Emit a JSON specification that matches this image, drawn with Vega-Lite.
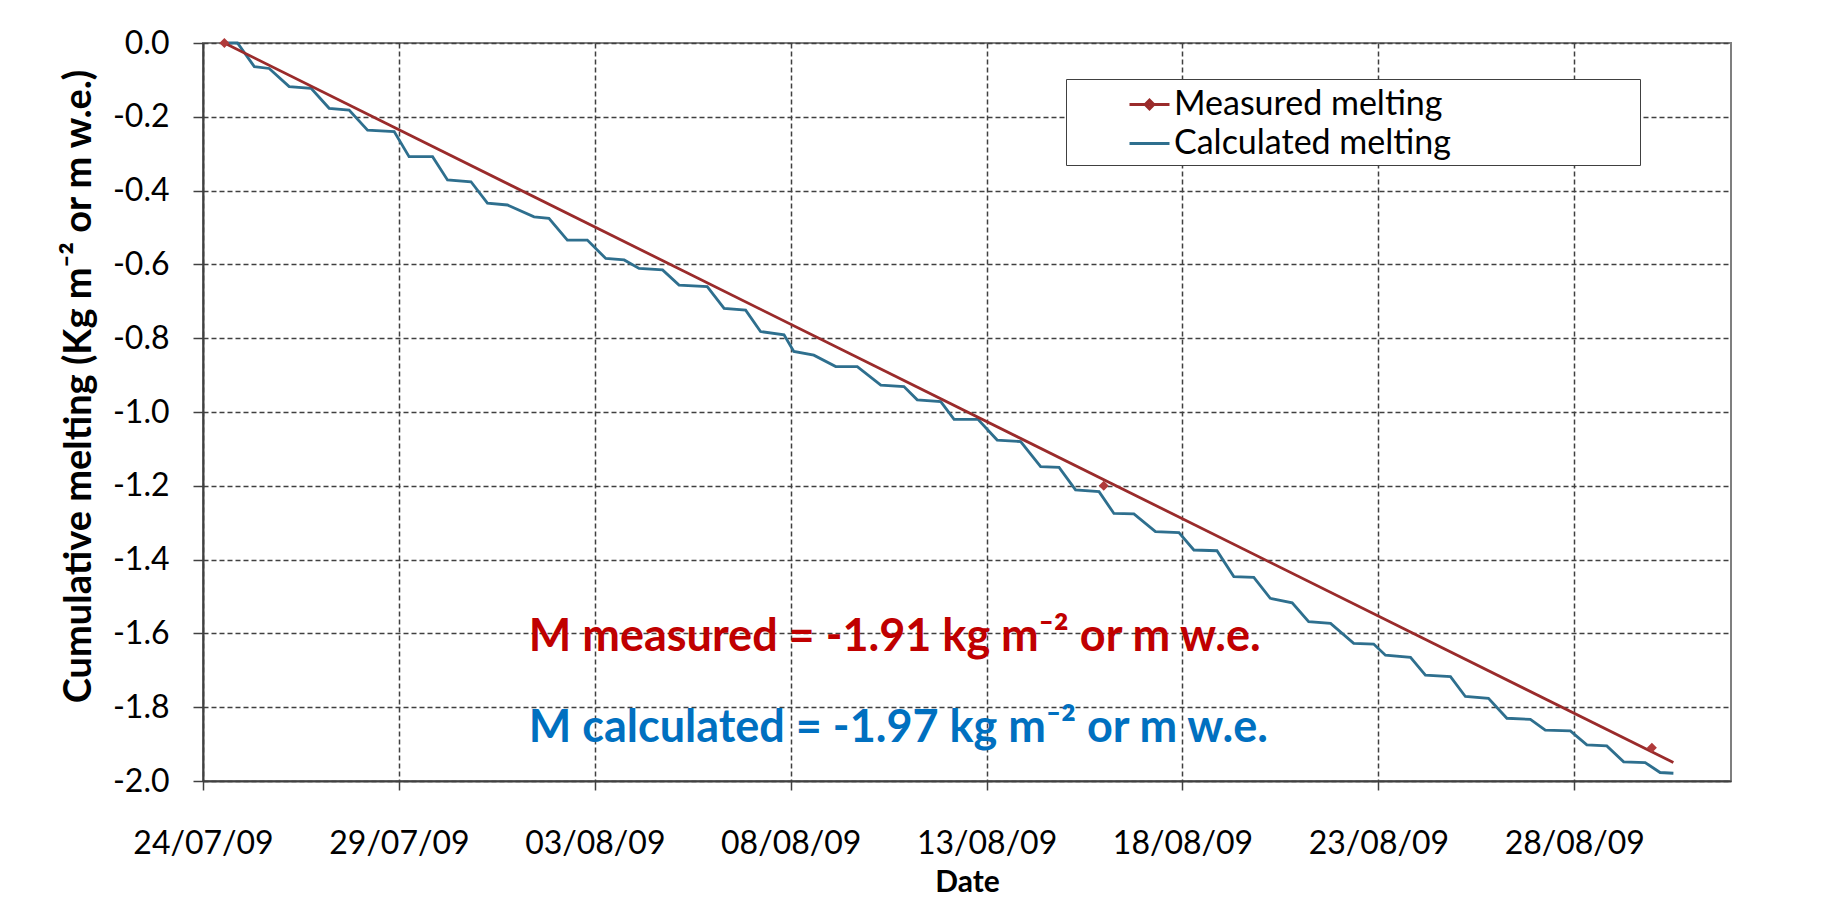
{
  "$schema": "https://vega.github.io/schema/vega-lite/v6.json",
  "width": 1528,
  "height": 738,
  "autosize": {"type": "none"},
  "padding": {"left": 203, "top": 43, "right": 96, "bottom": 118},
  "background": "white",
  "config": {
    "font": "Lato",
    "locale": {"number": {"decimal": ".", "thousands": ",", "grouping": [3], "currency": ["", ""], "minus": "-"}},
    "view": {"stroke": "#7f7f7f", "strokeWidth": 2}
  },
  "datasets": {
    "notes": [
      {"date": "2009-08-01T07:35", "value": -1.648, "note": "M measured = -1.91 kg m⁻² or m w.e.", "who": "measured"},
      {"date": "2009-08-01T07:35", "value": -1.894, "note": "M calculated = -1.97 kg m⁻² or m w.e.", "who": "calculated"}
    ],
    "melt": [
      {"date": "2009-07-24T13:05", "value": 0, "series": "Measured melting", "kind": "trend"},
      {"date": "2009-08-30T12:43", "value": -1.95, "series": "Measured melting", "kind": "trend"},
      {"date": "2009-07-24T13:05", "value": 0, "series": "Measured melting", "kind": "obs"},
      {"date": "2009-08-15T23:46", "value": -1.2, "series": "Measured melting", "kind": "obs"},
      {"date": "2009-08-29T23:31", "value": -1.91, "series": "Measured melting", "kind": "obs"},
      {"date": "2009-07-24T13:05", "value": 0, "series": "Calculated melting", "kind": "calc"},
      {"date": "2009-07-24T21:07", "value": 0, "series": "Calculated melting", "kind": "calc"},
      {"date": "2009-07-25T07:26", "value": -0.064, "series": "Calculated melting", "kind": "calc"},
      {"date": "2009-07-25T16:34", "value": -0.069, "series": "Calculated melting", "kind": "calc"},
      {"date": "2009-07-26T04:48", "value": -0.118, "series": "Calculated melting", "kind": "calc"},
      {"date": "2009-07-26T18:14", "value": -0.123, "series": "Calculated melting", "kind": "calc"},
      {"date": "2009-07-27T05:17", "value": -0.177, "series": "Calculated melting", "kind": "calc"},
      {"date": "2009-07-27T17:31", "value": -0.182, "series": "Calculated melting", "kind": "calc"},
      {"date": "2009-07-28T04:48", "value": -0.236, "series": "Calculated melting", "kind": "calc"},
      {"date": "2009-07-28T21:07", "value": -0.240, "series": "Calculated melting", "kind": "calc"},
      {"date": "2009-07-29T06:14", "value": -0.308, "series": "Calculated melting", "kind": "calc"},
      {"date": "2009-07-29T20:38", "value": -0.308, "series": "Calculated melting", "kind": "calc"},
      {"date": "2009-07-30T05:46", "value": -0.371, "series": "Calculated melting", "kind": "calc"},
      {"date": "2009-07-30T20:10", "value": -0.376, "series": "Calculated melting", "kind": "calc"},
      {"date": "2009-07-31T06:14", "value": -0.434, "series": "Calculated melting", "kind": "calc"},
      {"date": "2009-07-31T18:29", "value": -0.439, "series": "Calculated melting", "kind": "calc"},
      {"date": "2009-08-01T10:48", "value": -0.471, "series": "Calculated melting", "kind": "calc"},
      {"date": "2009-08-01T19:55", "value": -0.475, "series": "Calculated melting", "kind": "calc"},
      {"date": "2009-08-02T07:12", "value": -0.534, "series": "Calculated melting", "kind": "calc"},
      {"date": "2009-08-02T19:26", "value": -0.534, "series": "Calculated melting", "kind": "calc"},
      {"date": "2009-08-03T06:43", "value": -0.584, "series": "Calculated melting", "kind": "calc"},
      {"date": "2009-08-03T18:00", "value": -0.588, "series": "Calculated melting", "kind": "calc"},
      {"date": "2009-08-04T03:07", "value": -0.611, "series": "Calculated melting", "kind": "calc"},
      {"date": "2009-08-04T17:31", "value": -0.615, "series": "Calculated melting", "kind": "calc"},
      {"date": "2009-08-05T03:36", "value": -0.656, "series": "Calculated melting", "kind": "calc"},
      {"date": "2009-08-05T20:53", "value": -0.660, "series": "Calculated melting", "kind": "calc"},
      {"date": "2009-08-06T07:12", "value": -0.719, "series": "Calculated melting", "kind": "calc"},
      {"date": "2009-08-06T20:24", "value": -0.724, "series": "Calculated melting", "kind": "calc"},
      {"date": "2009-08-07T05:31", "value": -0.782, "series": "Calculated melting", "kind": "calc"},
      {"date": "2009-08-07T19:55", "value": -0.791, "series": "Calculated melting", "kind": "calc"},
      {"date": "2009-08-08T01:55", "value": -0.836, "series": "Calculated melting", "kind": "calc"},
      {"date": "2009-08-08T14:10", "value": -0.846, "series": "Calculated melting", "kind": "calc"},
      {"date": "2009-08-09T03:36", "value": -0.877, "series": "Calculated melting", "kind": "calc"},
      {"date": "2009-08-09T16:48", "value": -0.877, "series": "Calculated melting", "kind": "calc"},
      {"date": "2009-08-10T07:12", "value": -0.927, "series": "Calculated melting", "kind": "calc"},
      {"date": "2009-08-10T21:22", "value": -0.931, "series": "Calculated melting", "kind": "calc"},
      {"date": "2009-08-11T05:31", "value": -0.967, "series": "Calculated melting", "kind": "calc"},
      {"date": "2009-08-11T19:55", "value": -0.972, "series": "Calculated melting", "kind": "calc"},
      {"date": "2009-08-12T04:05", "value": -1.020, "series": "Calculated melting", "kind": "calc"},
      {"date": "2009-08-12T18:43", "value": -1.020, "series": "Calculated melting", "kind": "calc"},
      {"date": "2009-08-13T06:29", "value": -1.076, "series": "Calculated melting", "kind": "calc"},
      {"date": "2009-08-13T20:53", "value": -1.080, "series": "Calculated melting", "kind": "calc"},
      {"date": "2009-08-14T09:07", "value": -1.148, "series": "Calculated melting", "kind": "calc"},
      {"date": "2009-08-14T20:24", "value": -1.150, "series": "Calculated melting", "kind": "calc"},
      {"date": "2009-08-15T06:29", "value": -1.211, "series": "Calculated melting", "kind": "calc"},
      {"date": "2009-08-15T20:53", "value": -1.216, "series": "Calculated melting", "kind": "calc"},
      {"date": "2009-08-16T06:00", "value": -1.275, "series": "Calculated melting", "kind": "calc"},
      {"date": "2009-08-16T18:14", "value": -1.276, "series": "Calculated melting", "kind": "calc"},
      {"date": "2009-08-17T07:26", "value": -1.324, "series": "Calculated melting", "kind": "calc"},
      {"date": "2009-08-17T21:50", "value": -1.327, "series": "Calculated melting", "kind": "calc"},
      {"date": "2009-08-18T06:58", "value": -1.374, "series": "Calculated melting", "kind": "calc"},
      {"date": "2009-08-18T21:07", "value": -1.376, "series": "Calculated melting", "kind": "calc"},
      {"date": "2009-08-19T07:26", "value": -1.446, "series": "Calculated melting", "kind": "calc"},
      {"date": "2009-08-19T19:41", "value": -1.448, "series": "Calculated melting", "kind": "calc"},
      {"date": "2009-08-20T05:46", "value": -1.505, "series": "Calculated melting", "kind": "calc"},
      {"date": "2009-08-20T19:12", "value": -1.517, "series": "Calculated melting", "kind": "calc"},
      {"date": "2009-08-21T05:17", "value": -1.568, "series": "Calculated melting", "kind": "calc"},
      {"date": "2009-08-21T18:43", "value": -1.573, "series": "Calculated melting", "kind": "calc"},
      {"date": "2009-08-22T08:53", "value": -1.627, "series": "Calculated melting", "kind": "calc"},
      {"date": "2009-08-22T21:07", "value": -1.629, "series": "Calculated melting", "kind": "calc"},
      {"date": "2009-08-23T04:19", "value": -1.659, "series": "Calculated melting", "kind": "calc"},
      {"date": "2009-08-23T19:41", "value": -1.665, "series": "Calculated melting", "kind": "calc"},
      {"date": "2009-08-24T04:48", "value": -1.713, "series": "Calculated melting", "kind": "calc"},
      {"date": "2009-08-24T20:10", "value": -1.717, "series": "Calculated melting", "kind": "calc"},
      {"date": "2009-08-25T05:17", "value": -1.771, "series": "Calculated melting", "kind": "calc"},
      {"date": "2009-08-25T19:26", "value": -1.776, "series": "Calculated melting", "kind": "calc"},
      {"date": "2009-08-26T06:43", "value": -1.830, "series": "Calculated melting", "kind": "calc"},
      {"date": "2009-08-26T21:07", "value": -1.833, "series": "Calculated melting", "kind": "calc"},
      {"date": "2009-08-27T06:14", "value": -1.862, "series": "Calculated melting", "kind": "calc"},
      {"date": "2009-08-27T21:36", "value": -1.864, "series": "Calculated melting", "kind": "calc"},
      {"date": "2009-08-28T07:41", "value": -1.902, "series": "Calculated melting", "kind": "calc"},
      {"date": "2009-08-28T19:55", "value": -1.905, "series": "Calculated melting", "kind": "calc"},
      {"date": "2009-08-29T06:14", "value": -1.948, "series": "Calculated melting", "kind": "calc"},
      {"date": "2009-08-29T19:26", "value": -1.950, "series": "Calculated melting", "kind": "calc"},
      {"date": "2009-08-30T04:34", "value": -1.977, "series": "Calculated melting", "kind": "calc"},
      {"date": "2009-08-30T12:43", "value": -1.979, "series": "Calculated melting", "kind": "calc"}
    ]
  },
  "encoding": {
    "x": {
      "field": "date",
      "type": "temporal",
      "scale": {"domain": [{"year": 2009, "month": 7, "date": 24}, {"year": 2009, "month": 9, "date": 1}]},
      "axis": {
        "values": [
          {"year": 2009, "month": 7, "date": 24},
          {"year": 2009, "month": 7, "date": 29},
          {"year": 2009, "month": 8, "date": 3},
          {"year": 2009, "month": 8, "date": 8},
          {"year": 2009, "month": 8, "date": 13},
          {"year": 2009, "month": 8, "date": 18},
          {"year": 2009, "month": 8, "date": 23},
          {"year": 2009, "month": 8, "date": 28}
        ],
        "format": "%d/%m/%y",
        "title": "Date",
        "titleFont": "Lato",
        "titleFontSize": 30,
        "titleFontWeight": "bold",
        "titleColor": "black",
        "titlePadding": 8,
        "labelFont": "Lato",
        "labelFontSize": 32,
        "labelColor": "black",
        "labelPadding": 38,
        "labelFlush": false,
        "labelOverlap": false,
        "tickSize": 9,
        "tickColor": "#404040",
        "tickWidth": 1.5,
        "domainColor": "#404040",
        "domainWidth": 2,
        "grid": true,
        "gridColor": "#404040",
        "gridDash": [5, 3],
        "gridWidth": 1.5
      }
    },
    "y": {
      "field": "value",
      "type": "quantitative",
      "scale": {"domain": [-2, 0], "nice": false, "zero": false},
      "axis": {
        "values": [0, -0.2, -0.4, -0.6, -0.8, -1.0, -1.2, -1.4, -1.6, -1.8, -2.0],
        "format": ".1f",
        "title": "Cumulative melting (Kg m⁻² or m w.e.)",
        "titleFont": "Lato",
        "titleFontSize": 38,
        "titleFontWeight": "bold",
        "titleColor": "black",
        "titlePadding": 14,
        "titleY": 343,
        "labelFont": "Lato",
        "labelFontSize": 32,
        "labelColor": "black",
        "labelPadding": 24,
        "tickSize": 10,
        "tickColor": "#404040",
        "tickWidth": 1.5,
        "domainColor": "#404040",
        "domainWidth": 2,
        "grid": true,
        "gridColor": "#404040",
        "gridDash": [5, 3],
        "gridWidth": 1.5
      }
    },
    "color": {
      "field": "series",
      "type": "nominal",
      "scale": {"domain": ["Measured melting", "Calculated melting"], "range": ["#9a2b2b", "#2e6f8e"]},
      "legend": {
        "orient": "none",
        "legendX": 863,
        "legendY": 36,
        "title": " ",
        "titleOrient": "right",
        "titlePadding": 185,
        "strokeColor": "#404040",
        "fillColor": "white",
        "padding": 4,
        "symbolOffset": 58,
        "symbolSize": 1600,
        "symbolStrokeWidth": 2.8,
        "labelFont": "Lato",
        "labelFontSize": 34,
        "labelColor": "black",
        "labelOffset": 3,
        "labelLimit": 500,
        "rowPadding": 0,
        "encode": {
          "symbols": {
            "update": {
              "shape": {"signal": "datum.value == 'Measured melting' ? 'M-1,0L1,0M0,-0.22L0.22,0L0,0.22L-0.22,0Z' : 'M-1,0L1,0'"},
              "fill": {"signal": "datum.value == 'Measured melting' ? '#b03a3a' : 'transparent'"},
              "stroke": {"signal": "datum.value == 'Measured melting' ? '#9a2b2b' : '#2e6f8e'"},
              "strokeWidth": {"value": 2.8}
            }
          }
        }
      }
    }
  },
  "layer": [
    {
      "data": {"name": "melt"},
      "transform": [{"filter": "datum.kind == 'calc'"}],
      "mark": {"type": "line", "strokeWidth": 2.8}
    },
    {
      "data": {"name": "melt"},
      "transform": [{"filter": "datum.kind == 'trend'"}],
      "mark": {"type": "line", "strokeWidth": 2.8}
    },
    {
      "data": {"name": "melt"},
      "transform": [{"filter": "datum.kind == 'obs'"}],
      "mark": {"type": "point", "shape": "diamond", "filled": true, "size": 100, "opacity": 1},
      "encoding": {"color": {"value": "#b03a3a"}}
    },
    {
      "data": {"name": "notes"},
      "mark": {"type": "text", "align": "left", "baseline": "alphabetic", "font": "Lato", "fontSize": 45, "fontWeight": "bold"},
      "encoding": {
        "text": {"field": "note", "type": "nominal"},
        "color": {"condition": {"test": "datum.who == 'measured'", "value": "#c00000"}, "value": "#0070c0"}
      }
    }
  ]
}
